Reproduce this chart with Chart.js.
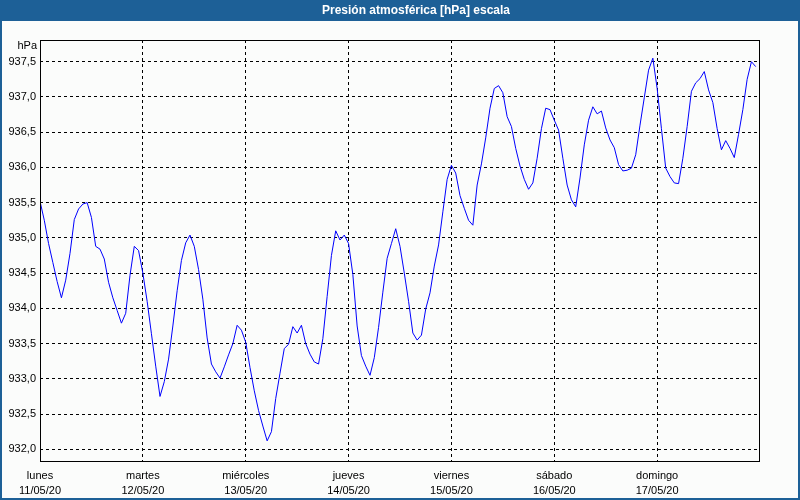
<!DOCTYPE html>
<html><head><meta charset="utf-8">
<script src="https://cdn.jsdelivr.net/npm/chart.js@4"></script>
<style>html,body{margin:0;padding:0;background:#fbfcfb}#wrap{width:800px;height:500px;position:relative}canvas{display:block}</style>
</head><body><div id="wrap"><canvas id="c" width="800" height="500"></canvas></div>
<script>
const titleText = 'Presión atmosférica [hPa] escala';
const unitLabel = 'hPa';
const dayNames = ['lunes', 'martes', 'miércoles', 'jueves', 'viernes', 'sábado', 'domingo'];
const dayDates = ['11/05/20', '12/05/20', '13/05/20', '14/05/20', '15/05/20', '16/05/20', '17/05/20'];
const yTicks = [932.0, 932.5, 933.0, 933.5, 934.0, 934.5, 935.0, 935.5, 936.0, 936.5, 937.0, 937.5];
// hourly pressure values (hPa), hour 0 = 11/05/20 00:00
const pressure = [
  935.52, 935.25, 934.92, 934.65, 934.38, 934.15, 934.40, 934.78, 935.26, 935.41, 935.48, 935.50,
  935.29, 934.88, 934.84, 934.70, 934.37, 934.15, 933.97, 933.79, 933.93, 934.47, 934.88, 934.82,
  934.50, 934.10, 933.64, 933.18, 932.75, 932.96, 933.28, 933.75, 934.25, 934.68, 934.93, 935.04,
  934.88, 934.55, 934.13, 933.58, 933.21, 933.10, 933.01, 933.17, 933.34, 933.50, 933.76, 933.69,
  933.52, 933.16, 932.83, 932.55, 932.33, 932.12, 932.25, 932.72, 933.08, 933.43, 933.49, 933.74,
  933.65, 933.76, 933.50, 933.35, 933.24, 933.21, 933.57, 934.17, 934.75, 935.10, 934.97, 935.04,
  934.92, 934.48, 933.75, 933.33, 933.18, 933.05, 933.30, 933.73, 934.23, 934.71, 934.92, 935.13,
  934.88, 934.50, 934.10, 933.65, 933.55, 933.62, 933.99, 934.22, 934.60, 934.90, 935.37, 935.83,
  936.03, 935.92, 935.60, 935.42, 935.25, 935.18, 935.75, 936.05, 936.42, 936.84, 937.12, 937.16,
  937.06, 936.72, 936.58, 936.27, 936.02, 935.83, 935.69, 935.78, 936.13, 936.55, 936.84, 936.82,
  936.67, 936.53, 936.13, 935.75, 935.54, 935.44, 935.85, 936.32, 936.67, 936.86, 936.76, 936.80,
  936.56, 936.39, 936.28, 936.04, 935.95, 935.96, 935.99, 936.18, 936.60, 936.99, 937.38, 937.55,
  937.12, 936.55, 935.99, 935.87, 935.78, 935.77, 936.13, 936.58, 937.08, 937.20, 937.26, 937.36,
  937.10, 936.92, 936.55, 936.25, 936.38, 936.27, 936.14, 936.47, 936.82, 937.25, 937.50, 937.43
];
const HOURS_PER_DAY = 24;

const FONT = 'Liberation Sans, Arial, sans-serif';
const BG = '#fbfcfb';
const FRAME = '#1d6097';

const framePlugin = {
  id: 'frame',
  beforeDraw(chart) {
    const ctx = chart.ctx;
    ctx.save();
    ctx.fillStyle = BG;
    ctx.fillRect(0, 0, chart.width, chart.height);
    ctx.restore();
  },
  afterDraw(chart) {
    const ctx = chart.ctx;
    const a = chart.chartArea;
    ctx.save();
    // window frame
    ctx.fillStyle = FRAME;
    ctx.fillRect(0, 0, chart.width, 21);
    ctx.fillRect(0, 0, 2, chart.height);
    ctx.fillRect(chart.width - 2, 0, 2, chart.height);
    ctx.fillRect(0, chart.height - 2, chart.width, 2);
    ctx.fillStyle = '#ffffff';
    ctx.font = 'bold 12px ' + FONT;
    ctx.textAlign = 'center';
    ctx.textBaseline = 'middle';
    ctx.fillText(titleText, 416, 11);
    // plot border
    ctx.strokeStyle = '#000000';
    ctx.lineWidth = 1;
    ctx.setLineDash([]);
    ctx.strokeRect(Math.round(a.left) + 0.5, Math.round(a.top) + 0.5,
                   Math.round(a.right - a.left) - 1, Math.round(a.bottom - a.top));
    // unit label
    ctx.fillStyle = '#000000';
    ctx.font = '11px ' + FONT;
    ctx.textAlign = 'right';
    ctx.textBaseline = 'middle';
    ctx.fillText(unitLabel, 37, 46);
    ctx.restore();
  }
};

new Chart(document.getElementById('c'), {
  type: 'line',
  data: {
    datasets: [{
      data: pressure.map((v, i) => ({ x: i, y: v })),
      borderColor: '#0000ff',
      borderWidth: 1,
      pointRadius: 0,
      tension: 0,
      fill: false
    }]
  },
  options: {
    responsive: false,
    animation: false,
    devicePixelRatio: 1,
    layout: { padding: { top: 40, left: 0, right: 40, bottom: 0 } },
    plugins: { legend: { display: false }, title: { display: false }, tooltip: { enabled: false } },
    scales: {
      x: {
        type: 'linear',
        min: 0,
        max: dayNames.length * HOURS_PER_DAY,
        afterBuildTicks(scale) { scale.ticks = dayNames.map((_, i) => ({ value: i * HOURS_PER_DAY })); },
        afterFit(scale) { scale.height = 39; },
        grid: { color: '#000000', lineWidth: 1, drawTicks: false },
        border: { display: false, dash: [3, 3] },
        ticks: {
          autoSkip: false, maxRotation: 0, minRotation: 0, padding: 7,
          color: '#000000',
          font: { family: FONT, size: 11, lineHeight: 1.38 },
          callback(v) { const i = Math.round(v / HOURS_PER_DAY); return [dayNames[i], dayDates[i]]; }
        }
      },
      y: {
        min: 931.834,
        max: 937.808,
        afterBuildTicks(scale) { scale.ticks = yTicks.map(v => ({ value: v })); },
        afterFit(scale) { scale.width = 40; },
        grid: { color: '#000000', lineWidth: 1, drawTicks: false },
        border: { display: false, dash: [3, 3] },
        ticks: {
          padding: 4,
          color: '#000000',
          font: { family: FONT, size: 11 },
          callback(v) { return v.toFixed(1).replace('.', ','); }
        }
      }
    }
  },
  plugins: [framePlugin]
});
</script></body></html>
